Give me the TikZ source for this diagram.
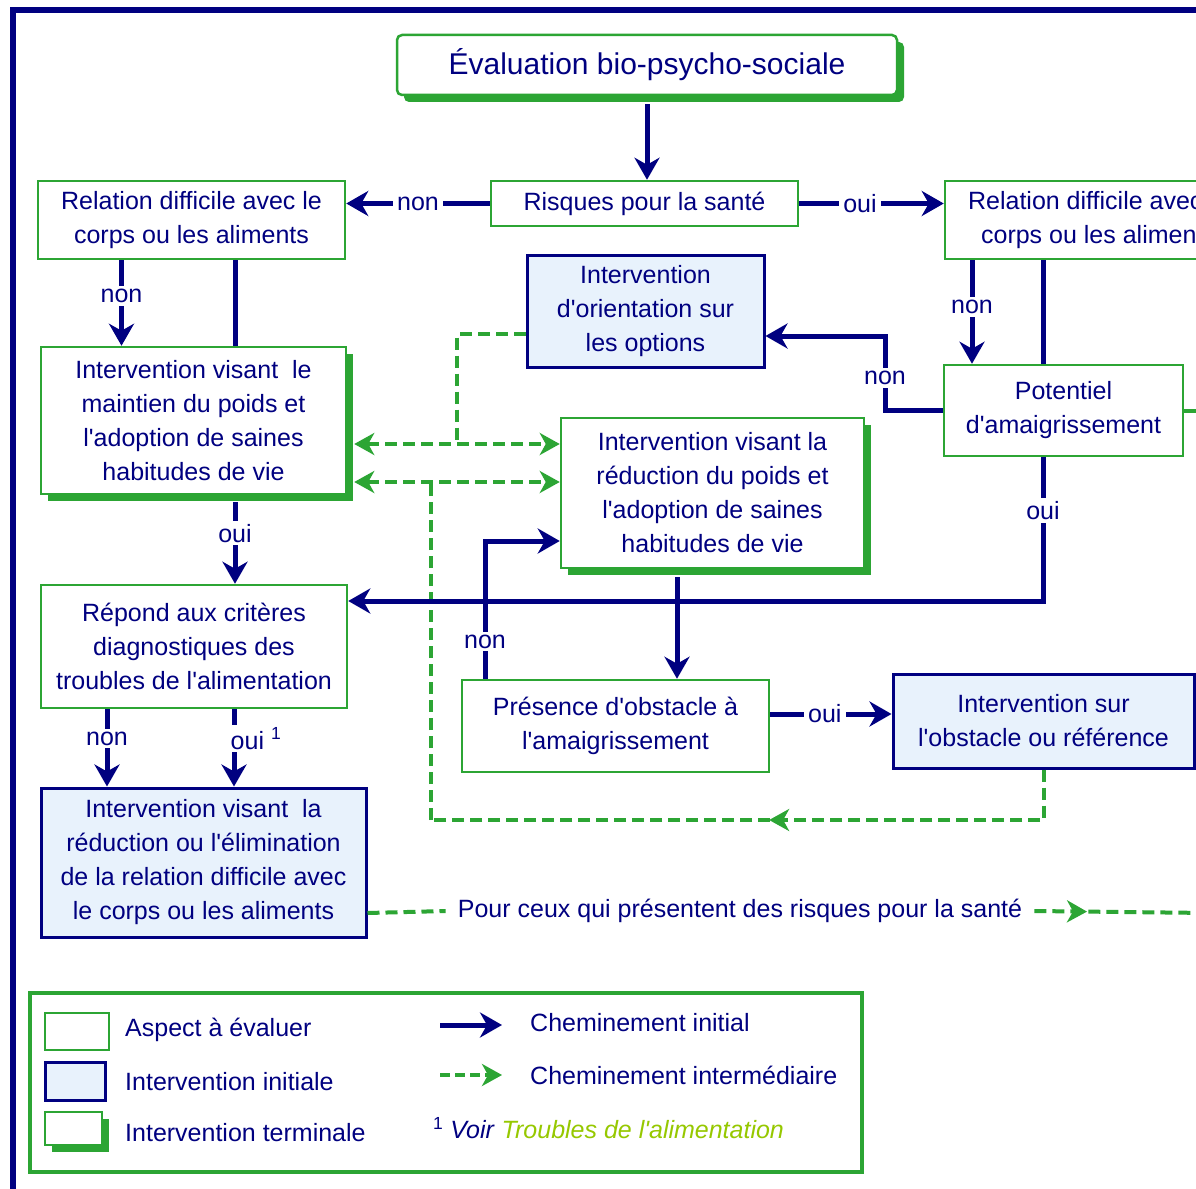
\documentclass[tikz,border=0pt]{standalone}
\usepackage{fontspec}
\setmainfont{Liberation Sans}[Ligatures=TeXOff]
\usetikzlibrary{arrows.meta,shadows,decorations.markings,calc}
\definecolor{navy}{RGB}{0,0,128}
\definecolor{gr}{RGB}{44,165,52}
\definecolor{lb}{RGB}{232,242,252}
\definecolor{limetxt}{RGB}{150,200,0}
\begin{document}
\begin{tikzpicture}[x=1pt,y=-1pt,
  txt/.style={font=\fontsize{25}{34}\selectfont, text=navy, align=center, inner sep=0pt},
  aspect/.style={txt, draw=gr, line width=2.5pt, fill=white},
  initial/.style={txt, draw=navy, line width=3pt, fill=lb, drop shadow={shadow xshift=1.5pt, shadow yshift=-2pt, fill=navy, opacity=1}},
  terminal/.style={aspect, drop shadow={shadow xshift=7pt, shadow yshift=-7pt, fill=gr, opacity=1}},
  lbl/.style={txt, fill=white, inner xsep=4pt, inner ysep=3pt},
  arr/.style={draw=navy, line width=5pt, -{Stealth[length=22pt,width=25pt,inset=7pt]}},
  link/.style={draw=navy, line width=5pt},
  gdash/.style={draw=gr, line width=4pt, dash pattern=on 12pt off 6pt},
  gtip/.style={-{Stealth[length=20pt,width=22pt,inset=6pt]}},
  gboth/.style={{Stealth[length=20pt,width=22pt,inset=6pt]}-{Stealth[length=20pt,width=22pt,inset=6pt]}},
  gmid/.style={postaction={decorate, decoration={markings, mark=at position #1 with {\arrow[gr]{Stealth[length=20pt,width=22pt,inset=6pt]}}}}}
]
\useasboundingbox (0,0) rectangle (1196,1188);
\clip (0,0) rectangle (1196,1188);
\fill[white] (0,0) rectangle (1196,1188);

% outer frame
\coordinate (fA) at (13,1200);
\coordinate (fB) at (13,10.5);
\coordinate (fC) at (1210,10.5);
\draw[navy, line width=6pt] (fA) -- (fB) -- (fC);

% boxes
\node[terminal, rounded corners=5pt, minimum width=500pt, minimum height=60pt, font=\fontsize{30}{36}\selectfont] (title) at (647,65) {Évaluation bio-psycho-sociale};
\node[aspect, minimum width=307pt, minimum height=45pt] (risk) at (644.5,203.5) {Risques pour la santé};
\node[aspect, minimum width=307pt, minimum height=78pt] (relL) at (191.5,220) {Relation difficile avec le\\corps ou les aliments};
\node[aspect, minimum width=307pt, minimum height=78pt] (relR) at (1098.5,220) {Relation difficile avec le\\corps ou les aliments};
\node[initial, minimum width=237pt, minimum height=112pt] (orient) at (645.5,311) {Intervention\\d'orientation sur\\les options};
\node[terminal, minimum width=305pt, minimum height=147pt] (maint) at (193.5,420.5) {Intervention visant\ \ le\\maintien du poids et\\l'adoption de saines\\habitudes de vie};
\node[terminal, minimum width=303pt, minimum height=150pt] (reduc) at (712.5,493) {Intervention visant la\\réduction du poids et\\l'adoption de saines\\habitudes de vie};
\node[aspect, minimum width=239pt, minimum height=91pt] (pot) at (1063.5,410.5) {Potentiel\\d'amaigrissement};
\node[aspect, minimum width=306pt, minimum height=123pt] (repond) at (194,646.5) {Répond aux critères\\diagnostiques des\\troubles de l'alimentation};
\node[aspect, minimum width=307pt, minimum height=92pt] (pres) at (615.5,726) {Présence d'obstacle à\\l'amaigrissement};
\node[initial, minimum width=301pt, minimum height=94pt] (obst) at (1043.5,721) {Intervention sur\\l'obstacle ou référence};
\node[initial, minimum width=325pt, minimum height=149pt] (elim) at (203.5,862.5) {Intervention visant\ \ la\\réduction ou l'élimination\\de la relation difficile avec\\le corps ou les aliments};
\node[txt, inner xsep=12pt] (pour) at (740,911) {Pour ceux qui présentent des risques pour la santé};

% helper coordinates
\coordinate (tS) at ([yshift=-8pt]title.south);
\coordinate (mE) at ([xshift=7pt]maint.east);
\coordinate (j1) at (457,444);
\coordinate (j2) at (431,482);
\coordinate (j3) at (431,820);
\coordinate (k1) at (885,336);
\coordinate (k2) at (1043,601);
\coordinate (k3) at (485,541);
\coordinate (pS) at ([xshift=-20.5pt]pot.south);
\coordinate (oW) at ([yshift=-23pt]orient.west);
\coordinate (eE) at ([yshift=-50.5pt]elim.east);
\coordinate (edgeR) at (1210,913);
\coordinate (pE) at ([yshift=12pt]pres.east);

% green dashed connectors
\draw[gdash] (oW) -| (j1);
\draw[gdash, gboth] (mE |- j1) -- (reduc.west |- j1);
\draw[gdash, gboth] (mE |- j2) -- (reduc.west |- j2);
\draw[gdash, gmid=0.49] (obst.south) |- (j3);
\draw[gdash] (j3) -- (j2);
\draw[gdash] (eE) -- (pour.west);
\draw[gdash, gmid=0.3] (pour.east) -- (edgeR);
\draw[gr, line width=4pt] (pot.east) -- ++(20,0);

% navy connectors
\draw[arr] (tS) -- (tS |- risk.north);
\draw[arr] (risk.west) -- node[lbl]{non} (risk.west -| relL.east);
\draw[arr] (risk.east) -- node[lbl, pos=0.42]{oui} (risk.east -| relR.west);
\draw[arr] ([xshift=-70pt]relL.south) -- node[lbl, pos=0.42]{non} ([xshift=-70pt]relL.south |- maint.north);
\draw[link] ([xshift=43.5pt]relL.south) -- ([xshift=43.5pt]relL.south |- maint.north);
\draw[arr] ([xshift=41.5pt,yshift=-7pt]maint.south) -- node[lbl, pos=0.38]{oui} ([xshift=41.5pt]maint.south |- repond.north);
\draw[arr] ([xshift=-87pt]repond.south) -- node[lbl, pos=0.38]{non} ([xshift=-87pt]repond.south |- elim.north);
\draw[arr] ([xshift=40pt]repond.south) -- node[lbl, pos=0.38, xshift=22pt]{oui \textsuperscript{1}} ([xshift=40pt]repond.south |- elim.north);
\draw[arr] ([xshift=-126.5pt]relR.south) -- node[lbl, pos=0.45]{non} ([xshift=-126.5pt]relR.south |- pot.north);
\draw[link] ([xshift=-55.5pt]relR.south) -- ([xshift=-55.5pt]relR.south |- pot.north);
\draw[arr] (pot.west) -| node[lbl, pos=0.72]{non} (k1) -- (orient.east |- k1);
\draw[arr] (pS) -- node[lbl, pos=0.37]{oui} (pS |- k2) -- (repond.east |- k2);
\draw[arr] ([xshift=-35.5pt,yshift=-8pt]reduc.south) -- ([xshift=-35.5pt]reduc.south |- pres.north);
\draw[arr] (pres.north -| k3) -- node[lbl, pos=0.27]{non} (k3) -- (reduc.west |- k3);
\draw[arr] (pE) -- node[lbl, pos=0.45]{oui} (pE -| obst.west);

% legend
\node[draw=gr, line width=4pt, minimum width=832pt, minimum height=179pt] (legend) at (446,1082.5) {};
\node[aspect, minimum width=64pt, minimum height=37pt] (sA) at (77,1031.5) {};
\node[initial, minimum width=60pt, minimum height=38pt] (sI) at (75,1081) {};
\node[terminal, minimum width=57pt, minimum height=33pt] (sT) at (73.5,1128.5) {};
\node[txt, anchor=west] (tA) at (125,1030) {Aspect à évaluer};
\node[txt, anchor=west] (tI) at (125,1082) {Intervention initiale};
\node[txt, anchor=west] (tT) at (125,1133) {Intervention terminale};
\coordinate (la1) at (440,1025);
\coordinate (la2) at (502,1025);
\coordinate (lb1) at (440,1075);
\coordinate (lb2) at (502,1075);
\draw[arr] (la1) -- (la2);
\draw[gdash, dash pattern=on 10pt off 5pt, gtip] (lb1) -- (lb2);
\node[txt, anchor=west] (tC1) at (530,1023) {Cheminement initial};
\node[txt, anchor=west] (tC2) at (530,1075) {Cheminement intermédiaire};
\node[txt, anchor=west] (tF) at (433,1128) {\textsuperscript{1} \textit{Voir} \textcolor{limetxt}{\textit{Troubles de l'alimentation}}};
\end{tikzpicture}
\end{document}
